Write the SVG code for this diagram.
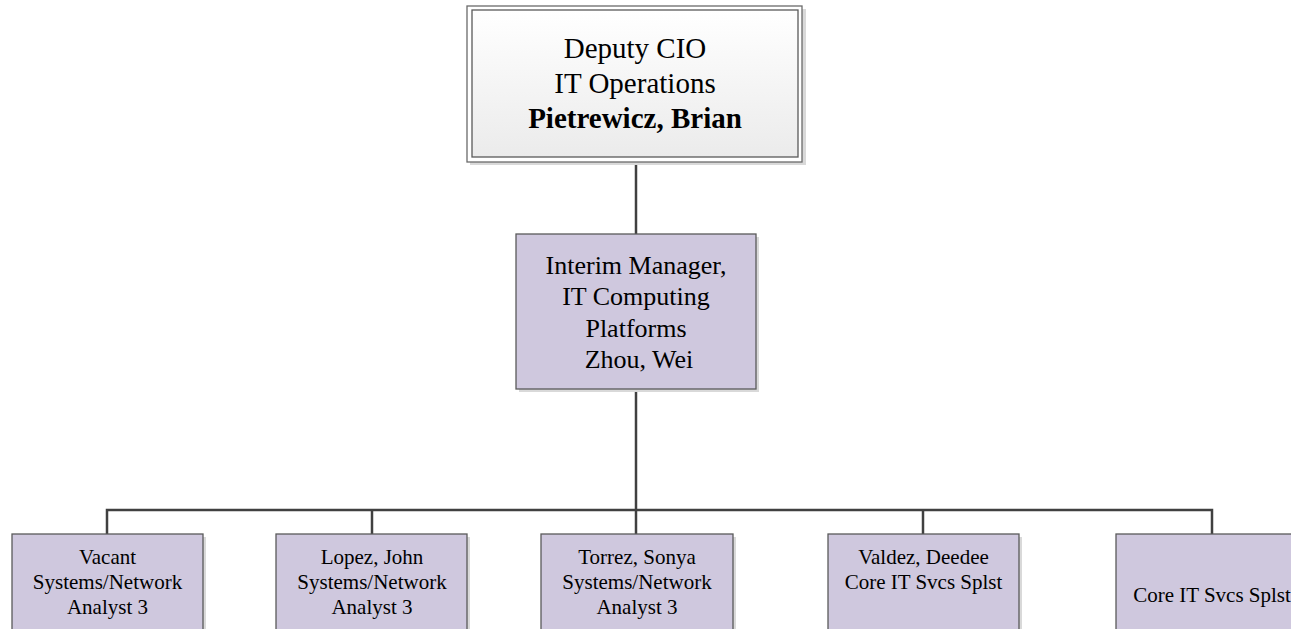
<svg xmlns="http://www.w3.org/2000/svg" width="1291" height="629" viewBox="0 0 1291 629">
  <defs>
    <linearGradient id="topfill" x1="0" y1="0" x2="0" y2="1">
      <stop offset="0" stop-color="#ffffff"/>
      <stop offset="1" stop-color="#ebebeb"/>
    </linearGradient>
  </defs>
  <style>
    .box { fill: #cfc8de; stroke: #5a5a5a; stroke-width: 1.3; }
    .shadow { fill: #d9d9d9; }
    .outer { fill: #ffffff; stroke: #6a6a6a; stroke-width: 1.3; }
    .inner { fill: url(#topfill); stroke: #5a5a5a; stroke-width: 1.3; }
    .conn { stroke: #404040; stroke-width: 2.5; fill: none; }
    text { font-family: "Liberation Serif", "Times New Roman", serif; fill: #000; text-anchor: middle; }
    .t29 { font-size: 29px; }
    .t26 { font-size: 26px; }
    .t21 { font-size: 21px; }
    .b { font-weight: bold; }
  </style>

  <g id="connectors">
    <line class="conn" x1="636" y1="162" x2="636" y2="234"/>
    <line class="conn" x1="636" y1="389" x2="636" y2="534"/>
    <polyline class="conn" points="107,534 107,510 1212,510 1212,534"/>
    <line class="conn" x1="372" y1="510" x2="372" y2="534"/>
    <line class="conn" x1="923" y1="510" x2="923" y2="534"/>
  </g>

  <g id="node-deputy-cio">
    <rect class="shadow" x="470" y="9" width="336" height="156"/>
    <rect class="outer" x="467" y="6" width="335" height="156"/>
    <rect class="inner" x="472" y="10" width="326" height="147"/>
    <text class="t29" x="635" y="58">Deputy CIO</text>
    <text class="t29" x="635" y="93">IT Operations</text>
    <text class="t29 b" x="635" y="128">Pietrewicz, Brian</text>
  </g>

  <g id="node-interim-manager">
    <rect class="shadow" x="519" y="237" width="240" height="155"/>
    <rect class="box" x="516" y="234" width="240" height="155"/>
    <text class="t26" x="636" y="274">Interim Manager,</text>
    <text class="t26" x="636" y="305">IT Computing</text>
    <text class="t26" x="636" y="337">Platforms</text>
    <text class="t26" x="639" y="368">Zhou, Wei</text>
  </g>

  <g id="node-vacant">
    <rect class="shadow" x="15" y="537" width="191" height="120"/>
    <rect class="box" x="12" y="534" width="191" height="120"/>
    <text class="t21" x="107.5" y="564">Vacant</text>
    <text class="t21" x="107.5" y="589">Systems/Network</text>
    <text class="t21" x="107.5" y="614">Analyst 3</text>
  </g>

  <g id="node-lopez">
    <rect class="shadow" x="279" y="537" width="191" height="120"/>
    <rect class="box" x="276" y="534" width="191" height="120"/>
    <text class="t21" x="372" y="564">Lopez, John</text>
    <text class="t21" x="372" y="589">Systems/Network</text>
    <text class="t21" x="372" y="614">Analyst 3</text>
  </g>

  <g id="node-torrez">
    <rect class="shadow" x="544" y="537" width="192" height="120"/>
    <rect class="box" x="541" y="534" width="192" height="120"/>
    <text class="t21" x="637" y="564">Torrez, Sonya</text>
    <text class="t21" x="637" y="589">Systems/Network</text>
    <text class="t21" x="637" y="614">Analyst 3</text>
  </g>

  <g id="node-valdez">
    <rect class="shadow" x="831" y="537" width="191" height="120"/>
    <rect class="box" x="828" y="534" width="191" height="120"/>
    <text class="t21" x="923.5" y="564">Valdez, Deedee</text>
    <text class="t21" x="923.5" y="589">Core IT Svcs Splst</text>
  </g>

  <g id="node-core-it">
    <rect class="shadow" x="1119" y="537" width="191" height="120"/>
    <rect class="box" x="1116" y="534" width="191" height="120"/>
    <text class="t21" x="1212" y="602">Core IT Svcs Splst</text>
  </g>
</svg>
